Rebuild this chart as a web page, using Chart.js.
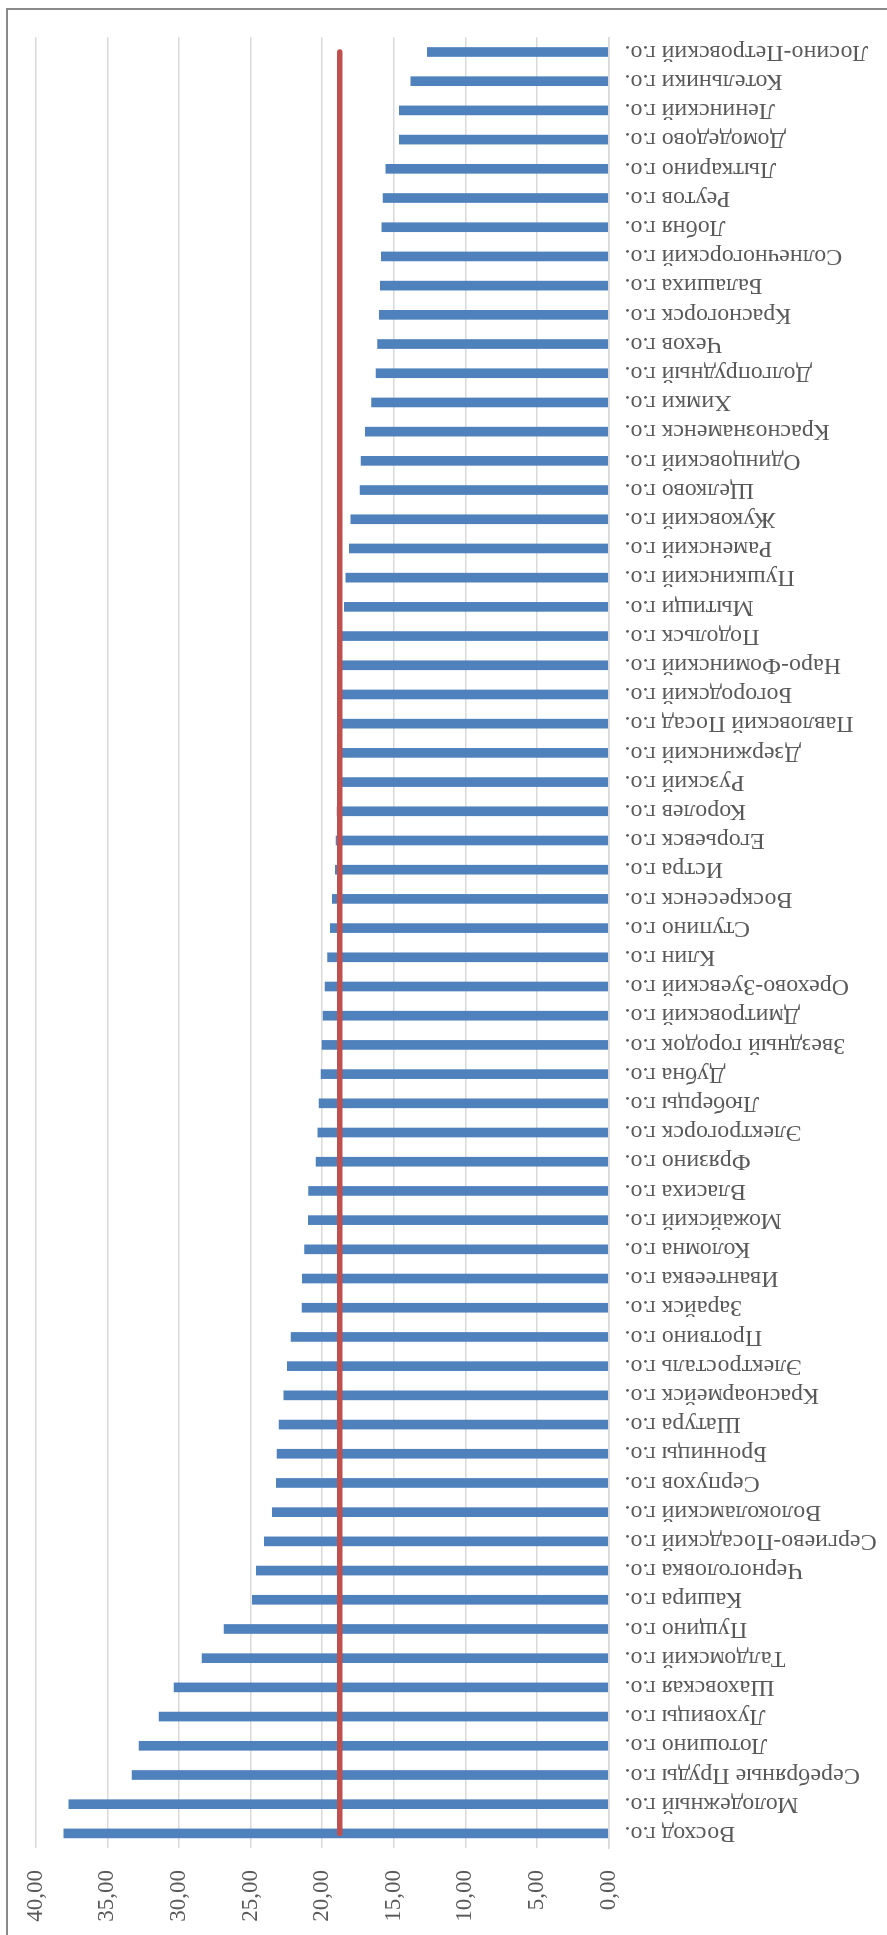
<!DOCTYPE html>
<html lang="ru">
<head>
<meta charset="utf-8">
<title>Городские округа</title>
<script src="https://cdn.jsdelivr.net/npm/chart.js@4.4.1/dist/chart.umd.min.js"></script>
<style>
    html, body {
        margin: 0;
        padding: 0;
        background: #ffffff;
        overflow: hidden;
        width: 887px;
        height: 1935px;
    }
    /* Rahmen wie im Original (nur oben und links sichtbar) */
    #frame {
        position: absolute;
        left: 6px;
        top: 8px;
        width: 900px;
        height: 2000px;
        border-left: 2px solid #8a8a8a;
        border-top: 2px solid #8a8a8a;
    }
    /* Diagramm wird liegend gezeichnet und dann um 90° gedreht */
    #wrap {
        position: absolute;
        left: 0;
        top: 0;
        width: 1935px;
        height: 887px;
        transform-origin: 0 0;
        transform: translateY(1935px) rotate(-90deg);
    }
</style>
</head>
<body>
<div id="frame"></div>
<div id="wrap"><canvas id="okrugChart" width="1935" height="887"></canvas></div>
<script>
const ctx = document.getElementById('okrugChart').getContext('2d');

// Kategorien (von unten nach oben im Bild)
const okruga = [
    'Восход г.о.', 'Молодежный г.о.', 'Серебряные Пруды г.о.', 'Лотошино г.о.',
    'Луховицы г.о.', 'Шаховская г.о.', 'Талдомский г.о.', 'Пущино г.о.',
    'Кашира г.о.', 'Черноголовка г.о.', 'Сергиево-Посадский г.о.', 'Волоколамский г.о.',
    'Серпухов г.о.', 'Бронницы г.о.', 'Шатура г.о.', 'Красноармейск г.о.',
    'Электросталь г.о.', 'Протвино г.о.', 'Зарайск г.о.', 'Ивантеевка г.о.',
    'Коломна г.о.', 'Можайский г.о.', 'Власиха г.о.', 'Фрязино г.о.',
    'Электрогорск г.о.', 'Люберцы г.о.', 'Дубна г.о.', 'Звездный городок г.о.',
    'Дмитровский г.о.', 'Орехово-Зуевский г.о.', 'Клин г.о.', 'Ступино г.о.',
    'Воскресенск г.о.', 'Истра г.о.', 'Егорьевск г.о.', 'Королев г.о.',
    'Рузский г.о.', 'Дзержинский г.о.', 'Павловский Посад г.о.', 'Богородский г.о.',
    'Наро-Фоминский г.о.', 'Подольск г.о.', 'Мытищи г.о.', 'Пушкинский г.о.',
    'Раменский г.о.', 'Жуковский г.о.', 'Щелково г.о.', 'Одинцовский г.о.',
    'Краснознаменск г.о.', 'Химки г.о.', 'Долгопрудный г.о.', 'Чехов г.о.',
    'Красногорск г.о.', 'Балашиха г.о.', 'Солнечногорский г.о.', 'Лобня г.о.',
    'Реутов г.о.', 'Лыткарино г.о.', 'Домодедово г.о.', 'Ленинский г.о.',
    'Котельники г.о.', 'Лосино-Петровский г.о.'
];

// Werte je Kategorie
const znacheniya = [
    38.05, 37.70, 33.27, 32.79,
    31.39, 30.34, 28.39, 26.85,
    24.87, 24.59, 24.04, 23.48,
    23.20, 23.15, 23.01, 22.68,
    22.43, 22.17, 21.40, 21.38,
    21.22, 20.96, 20.95, 20.43,
    20.31, 20.22, 20.08, 20.01,
    19.94, 19.80, 19.62, 19.43,
    19.29, 19.08, 19.03, 18.95,
    18.93, 18.91, 18.88, 18.86,
    18.84, 18.81, 18.45, 18.35,
    18.10, 18.00, 17.35, 17.28,
    16.98, 16.54, 16.24, 16.12,
    16.00, 15.94, 15.87, 15.84,
    15.75, 15.56, 14.61, 14.61,
    13.81, 12.65
];

// Mittelwert (rote Linie)
const srednee = 18.77;
const sredneeLine = okruga.map(() => srednee);

// Achsenbeschriftung
const yMin = 0;
const yMax = 40;
const yStep = 5;

const fontFamily = "'Liberation Serif', 'Times New Roman', serif";

function formatNumber(v) {
    return v.toFixed(2).replace('.', ',');
}

const data = {
    labels: okruga,
    datasets: [
        {
            type: 'line',
            label: 'Среднее',
            data: sredneeLine,
            borderColor: '#C0504D',
            borderWidth: 5.5,
            borderCapStyle: 'round',
            pointRadius: 0,
            fill: false,
            order: 0
        },
        {
            type: 'bar',
            label: 'Значение',
            data: znacheniya,
            backgroundColor: '#4F81BD',
            borderWidth: 0,
            barThickness: 9,
            order: 1
        }
    ]
};

const config = {
    type: 'bar',
    data: data,
    options: {
        responsive: false,
        animation: false,
        layout: {
            padding: { left: 0, right: 37.4, top: 35.7, bottom: 0 }
        },
        plugins: {
            legend: { display: false },
            tooltip: { enabled: false }
        },
        scales: {
            x: {
                grid: { display: false, drawTicks: false },
                border: { display: true, color: '#D9D9D9', width: 1.5 },
                ticks: {
                    autoSkip: false,
                    minRotation: 90,
                    maxRotation: 90,
                    padding: 16,
                    color: '#595959',
                    font: { family: fontFamily, size: 24 }
                },
                afterFit: function (scale) {
                    scale.height = 887 - 608.5;
                }
            },
            y: {
                min: yMin,
                max: yMax,
                grid: { color: '#D9D9D9', lineWidth: 1.5, drawTicks: false },
                border: { display: false },
                ticks: {
                    stepSize: yStep,
                    padding: 22,
                    color: '#595959',
                    font: { family: fontFamily, size: 23 },
                    callback: function (value) {
                        return formatNumber(value);
                    }
                },
                afterFit: function (scale) {
                    scale.width = 87;
                }
            }
        }
    }
};

const okrugChart = new Chart(ctx, config);
</script>
</body>
</html>
